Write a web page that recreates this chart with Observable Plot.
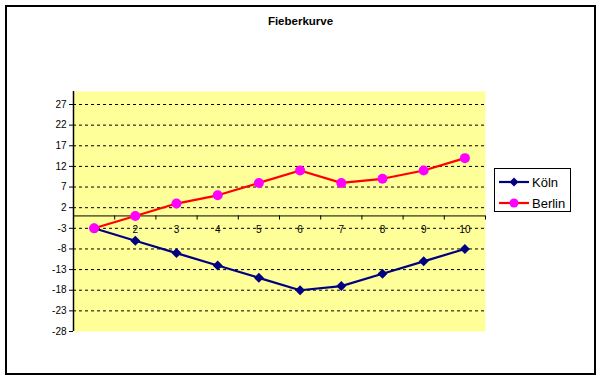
<!DOCTYPE html>
<html>
<head>
<meta charset="utf-8">
<script src="https://cdn.jsdelivr.net/npm/d3@7"></script>
<script src="https://cdn.jsdelivr.net/npm/@observablehq/plot@0.6"></script>
<style>
  body { margin: 0; background: #fff; font-family: "Liberation Sans", Arial, sans-serif; }
  #wrap { position: relative; width: 601px; height: 379px; }
  #border { position: absolute; left: 5px; top: 5px; width: 591px; height: 370px; box-sizing: border-box; border: 2px solid #000; pointer-events: none; }
  #title { position: absolute; left: 0; width: 601px; top: 15px; text-align: center; font-size: 11.5px; font-weight: bold; color: #000; }
  #legend { position: absolute; left: 494px; top: 168px; width: 77px; height: 44px; box-sizing: border-box; border: 1px solid #000; background: #fff; }
  .item { position: absolute; left: 4px; height: 16px; display: flex; align-items: center; font-size: 13px; color: #000; }
  .item svg { margin-right: 2px; }
  #chart { position: absolute; left: 0; top: 0; }
</style>
</head>
<body>
<div id="wrap">
  <div id="chart"></div>
  <div id="title">Fieberkurve</div>
  <div id="legend"></div>
  <div id="border"></div>
</div>
<script>
const days = [1, 2, 3, 4, 5, 6, 7, 8, 9, 10];
const koeln = [-3, -6, -9, -12, -15, -18, -17, -14, -11, -8];
const berlin = [-3, 0, 3, 5, 8, 11, 8, 9, 11, 14];
const yTicks = [-28, -23, -18, -13, -8, -3, 2, 7, 12, 17, 22, 27];
const seriesNames = ["Köln", "Berlin"];
const lineColors = ["#000080", "#ff0000"];
const markerColors = ["#000080", "#ff00ff"];
const markerSymbols = ["diamond2", "circle"];

const data = [];
days.forEach((d, i) => {
  data.push({day: d, value: koeln[i], city: seriesNames[0]});
  data.push({day: d, value: berlin[i], city: seriesNames[1]});
});
const boundaries = d3.range(days.length + 1).map(i => days[0] - 0.5 + i);
const gridTicks = yTicks.filter(t => t > yTicks[0]);

const chart = Plot.plot({
  width: 601,
  height: 379,
  marginLeft: 73,
  marginRight: 116,
  marginTop: 91,
  marginBottom: 48,
  style: {fontFamily: "'Liberation Sans', Arial, sans-serif", fontSize: "10px", background: "transparent"},
  x: {domain: [0.5, 10.5], axis: null},
  y: {domain: [-28, 30.15], axis: null},
  marks: [
    Plot.frame({fill: "#ffff99", stroke: null}),
    Plot.ruleY(gridTicks, {stroke: "#000", strokeDasharray: "3,3", strokeWidth: 1}),
    Plot.ruleY([0], {stroke: "#000", strokeWidth: 1}),
    Plot.ruleX(boundaries, {y1: 0, y2: -1, stroke: "#000"}),
    Plot.ruleX([0.5], {stroke: "#000", strokeWidth: 1.5}),
    Plot.axisY({ticks: yTicks, tickSize: 4, tickPadding: 3, tickFormat: d => String(d), fontSize: 10, label: null, anchor: "left"}),
    Plot.text(days, {x: d => d, y: 0, dy: 14, text: d => String(d), fontSize: 10, fill: "#000"}),
    Plot.line(data, {x: "day", y: "value", z: "city", stroke: d => lineColors[seriesNames.indexOf(d.city)], strokeWidth: 2.2}),
    Plot.dot(data.filter(d => d.city === seriesNames[0]), {x: "day", y: "value", symbol: markerSymbols[0], r: 4.5, fill: markerColors[0], stroke: "none"}),
    Plot.dot(data.filter(d => d.city === seriesNames[1]), {x: "day", y: "value", symbol: markerSymbols[1], r: 5, fill: markerColors[1], stroke: "none"})
  ]
});
document.getElementById("chart").appendChild(chart);

// legend
const legend = document.getElementById("legend");
seriesNames.forEach((name, i) => {
  const item = document.createElement("div");
  item.className = "item";
  item.style.top = (i === 0 ? 5 : 26) + "px";
  const sym = i === 0
    ? `<path d="M15,1.5 L19.5,6 L15,10.5 L10.5,6 Z" fill="${markerColors[i]}"/>`
    : `<circle cx="15" cy="6" r="4.5" fill="${markerColors[i]}"/>`;
  item.innerHTML = `<svg width="31" height="12"><line x1="0" y1="6" x2="30" y2="6" stroke="${lineColors[i]}" stroke-width="2.2"/>${sym}</svg><span>${name}</span>`;
  legend.appendChild(item);
});
</script>
</body>
</html>
